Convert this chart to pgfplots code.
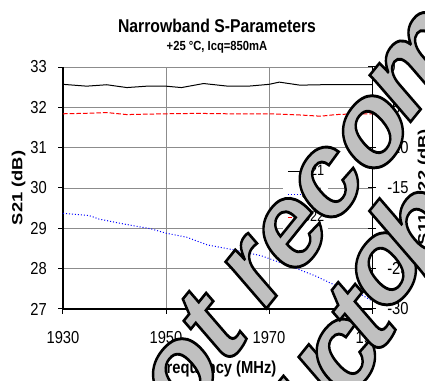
\documentclass[border=0pt]{standalone}
\usepackage{fontspec}
\setmainfont{Liberation Sans}[FakeStretch=0.85]
\newfontfamily\rotfont{Liberation Sans}[FakeStretch=1.25]
\newfontfamily\wmfont{Liberation Sans}
\usepackage{pgfplots}
\pgfplotsset{compat=1.18}
\definecolor{wmgray}{HTML}{C0C0C0}
\definecolor{sblue}{HTML}{0000FF}
\definecolor{sred}{HTML}{FF0000}
\newcommand\wm[1]{{\wmfont\bfseries\fontsize{80}{80}\selectfont\special{pdf:literal direct 2 Tr 0 0 0 RG 1.8 w}#1\special{pdf:literal direct 0 Tr}}}
\begin{document}
\begin{tikzpicture}
\begin{axis}[
  at={(0pt,0pt)}, anchor=south west,
  scale only axis, width=231.75pt, height=181.5pt,
  xmin=1930, xmax=1990, ymin=27, ymax=33,
  axis x line*=bottom, axis y line*=left,
  axis line style={-, line width=1.5pt, black},
  xtick={1930,1950,1970,1990}, ytick={27,28,...,33},
  grid=major, major grid style={black!45, line width=0.6pt},
  tick align=outside, major tick length=3.75pt, tick style={black, line width=0.75pt},
  /pgf/number format/assume math mode=true, /pgf/number format/1000 sep={},
  tick label style={font=\fontsize{13}{15}\selectfont},
  yticklabel style={anchor=east, inner sep=0pt, xshift=-8.25pt},
  xticklabel style={anchor=north, inner sep=0pt, yshift=-12.5pt},
]
\addplot[black, line width=0.75pt] coordinates {
(1930,32.57) (1934.6,32.525) (1938.5,32.56) (1942.4,32.49) (1946.3,32.525)
(1950,32.525) (1953,32.49) (1957.3,32.59) (1962,32.525) (1966,32.525)
(1970,32.57) (1972,32.625) (1976,32.55) (1980,32.56) (1985,32.56) (1990,32.56)};
\end{axis}
\begin{axis}[
  at={(0pt,0pt)}, anchor=south west,
  scale only axis, width=231.75pt, height=181.5pt,
  xmin=1930, xmax=1990, ymin=-30, ymax=0,
  axis x line=none, axis y line*=right,
  y axis line style={-, line width=0.75pt, black},
  ytick={-30,-25,...,0},
  tick align=center, major tick length=6pt, tick style={black, line width=0.75pt},
  /pgf/number format/assume math mode=true,
  tick label style={font=\fontsize{13}{15}\selectfont},
  yticklabel style={anchor=west, inner sep=0pt, xshift=8.25pt},
  legend cell align=left,
  legend style={at={(0.712,0.624)}, anchor=north west, draw=none, fill=white,
    font=\fontsize{11.25}{13}\selectfont, inner xsep=3pt, inner ysep=5pt,
    row sep=8pt, nodes={inner sep=0pt},
    /tikz/every even column/.style={column sep=9.75pt}},
  legend image code/.code={\draw[#1] (0pt,0pt) -- (10pt,0pt);},
]
\addlegendimage{black, line width=0.75pt}
\addlegendentry{S21}
\addplot[sblue, line width=0.75pt, dash pattern=on 0.75pt off 1.5pt] coordinates {
(1930,-18.15) (1935,-18.4) (1937,-18.85) (1941.7,-19.45) (1947,-20.05)
(1950,-20.6) (1954,-21.1) (1958,-22.05) (1963,-22.65) (1968.5,-23.4)
(1972,-24.2) (1975,-24.9) (1979,-25.9) (1982,-26.8) (1984.5,-27.6)
(1987,-27.85) (1990,-29.0)};
\addlegendentry{S11}
\addplot[sred, line width=0.75pt, dash pattern=on 3.5pt off 1.5pt] coordinates {
(1930,-5.8) (1934,-5.75) (1938.5,-5.65) (1942.4,-5.9) (1946,-5.85)
(1950,-5.8) (1956,-5.75) (1962,-5.8) (1970,-5.8) (1976,-5.95)
(1980,-6.1) (1983,-5.9) (1987,-5.8) (1990,-5.8)};
\addlegendentry{S22}
\end{axis}
\node[font=\bfseries\fontsize{13.9}{16}\selectfont] at (115.5pt,212.25pt) {Narrowband S-Parameters};
\node[font=\bfseries\fontsize{9.9}{11}\selectfont] at (115.5pt,196.1pt) {+25 °C, Icq=850mA};
\node[font=\bfseries\fontsize{13}{15}\selectfont] at (115.5pt,-45pt) {Frequency (MHz)};
\node[font=\rotfont\bfseries\fontsize{11}{13}\selectfont, rotate=90] at (-33.4pt,90.75pt) {S21 (dB)};
\node[font=\rotfont\bfseries\fontsize{11}{13}\selectfont, rotate=90] at (271.1pt,91.5pt) {S11, S22 (dB)};
\begin{scope}
\clip (-47.25pt,-54pt) rectangle (271.5pt,231.75pt);
\begin{scope}[yscale=1.2]
\tikzset{wml/.style={text=wmgray, inner sep=0pt, anchor=center, rotate=46, transform shape}}
\node[wml] at (56.25pt,-76.9pt) {\wm{n}};
\node[wml] at (90pt,-41.25pt) {\wm{o}};
\node[wml] at (111pt,-10pt) {\wm{t}};
\node[wml] at (144pt,22.5pt) {\wm{r}};
\node[wml] at (171.75pt,47.5pt) {\wm{e}};
\node[wml] at (198.75pt,78.75pt) {\wm{c}};
\node[wml] at (232.5pt,110.6pt) {\wm{o}};
\node[wml] at (266pt,153.5pt) {\wm{m}};
\node[wml] at (186.75pt,-50.6pt) {\wm{u}};
\node[wml] at (211.5pt,-28.75pt) {\wm{c}};
\node[wml] at (222.75pt,-4.4pt) {\wm{t}};
\node[wml] at (242.25pt,25pt) {\wm{o}};
\node[wml] at (264pt,54.4pt) {\wm{b}};
\end{scope}
\end{scope}
\pgfresetboundingbox
\path[use as bounding box] (-47.25pt,-54pt) rectangle (271.5pt,231.75pt);
\end{tikzpicture}
\end{document}
